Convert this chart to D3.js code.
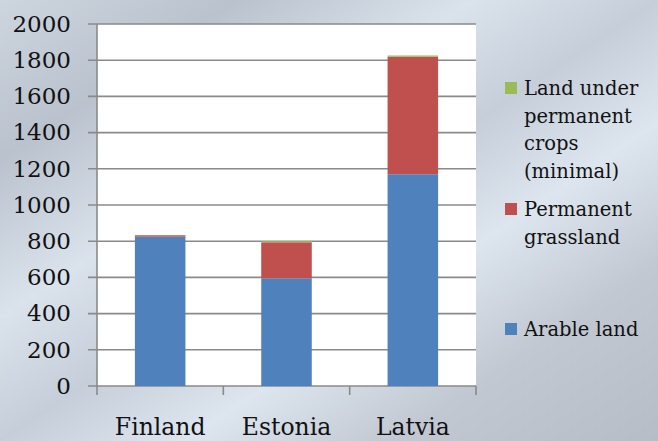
<!DOCTYPE html>
<html>
<head>
<meta charset="utf-8">
<script src="https://cdn.jsdelivr.net/npm/d3@7"></script>
<style>
  html, body { margin: 0; padding: 0; overflow: hidden; }
  svg { display: block; }
  text { font-family: "DejaVu Serif", "Liberation Serif", serif; fill: #111; }
</style>
</head>
<body>
<svg id="chart" width="658" height="441"></svg>
<script>
// Agricultural land by country (thousand hectares)
const countries = ["Finland", "Estonia", "Latvia"];
const arableLand = [825, 595, 1170];
const permanentGrassland = [8, 199, 649];
const permanentCrops = [1, 6, 7];
const yTicks = [0, 200, 400, 600, 800, 1000, 1200, 1400, 1600, 1800, 2000];

const seriesNames = ["Arable land", "Permanent grassland", "Land under permanent crops (minimal)"];
const seriesColors = ["#4f81bd", "#c0504d", "#9bbb59"];

const rows = countries.map((c, i) => ({
  country: c,
  "Arable land": arableLand[i],
  "Permanent grassland": permanentGrassland[i],
  "Land under permanent crops (minimal)": permanentCrops[i]
}));

const svg = d3.select("#chart");
const W = 658, H = 441;
const plot = { left: 97, right: 476, top: 24, bottom: 386 };

// Backdrop gradient with soft diagonal bands
const defs = svg.append("defs");
const grad = defs.append("linearGradient")
  .attr("id", "bg").attr("x1", 0).attr("y1", 0).attr("x2", 1).attr("y2", 1);
[[0, "#cdd5df"], [0.18, "#bac2cd"], [0.36, "#dae2ec"], [0.5, "#c6ced9"],
 [0.64, "#dde5ef"], [0.8, "#c1c8d2"], [1, "#b6bdc7"]]
  .forEach(([o, c]) => grad.append("stop").attr("offset", o).attr("stop-color", c));
svg.append("rect").attr("width", W).attr("height", H).attr("fill", "url(#bg)");

// Plot area
svg.append("rect")
  .attr("x", plot.left).attr("y", plot.top)
  .attr("width", plot.right - plot.left).attr("height", plot.bottom - plot.top)
  .attr("fill", "#ffffff");

const x = d3.scaleBand().domain(countries).range([plot.left, plot.right]).paddingInner(0.6).paddingOuter(0.3);
const xBand = d3.scaleBand().domain(countries).range([plot.left, plot.right]);
const y = d3.scaleLinear().domain([0, 2000]).range([plot.bottom, plot.top]);

const gridColor = "#8a8a8a";

// Horizontal gridlines
svg.append("g").selectAll("line").data(yTicks).join("line")
  .attr("x1", plot.left - 9).attr("x2", plot.right)
  .attr("y1", d => y(d)).attr("y2", d => y(d))
  .attr("stroke", gridColor).attr("stroke-width", 1.6);

// Stacked bars
const stack = d3.stack().keys(seriesNames);
const stacked = stack(rows);
svg.append("g").selectAll("g").data(stacked).join("g")
  .attr("fill", (d, i) => seriesColors[i])
  .selectAll("rect").data(d => d).join("rect")
  .attr("x", d => x(d.data.country))
  .attr("width", x.bandwidth())
  .attr("y", d => y(d[1]))
  .attr("height", d => y(d[0]) - y(d[1]));

// Y axis
const yAxis = d3.axisLeft(y).tickValues(yTicks).tickFormat(d3.format("d")).tickSize(0).tickPadding(26);
const yg = svg.append("g").attr("transform", `translate(${plot.left},0)`).call(yAxis);
yg.select(".domain").remove();
yg.selectAll("text").style("font-size", "23px").attr("fill", "#111")
  .style("font-family", "'DejaVu Serif', serif");
svg.append("line")
  .attr("x1", plot.left).attr("x2", plot.left)
  .attr("y1", plot.top).attr("y2", plot.bottom + 9)
  .attr("stroke", gridColor).attr("stroke-width", 1.6);

// X axis category boundaries
const bounds = countries.map(c => xBand(c)).concat([plot.right]);
svg.append("g").selectAll("line").data(bounds.slice(1)).join("line")
  .attr("x1", d => d).attr("x2", d => d)
  .attr("y1", plot.bottom).attr("y2", plot.bottom + 9)
  .attr("stroke", gridColor).attr("stroke-width", 1.6);

svg.append("g").selectAll("text").data(countries).join("text")
  .attr("x", d => xBand(d) + xBand.bandwidth() / 2)
  .attr("y", 435)
  .attr("text-anchor", "middle")
  .style("font-size", "23.5px")
  .text(d => d);

// Legend
const legendItems = [
  { color: seriesColors[2], lines: ["Land under", "permanent", "crops", "(minimal)"], y: 95 },
  { color: seriesColors[1], lines: ["Permanent", "grassland"], y: 216 },
  { color: seriesColors[0], lines: ["Arable land"], y: 336 }
];
const lg = svg.append("g");
legendItems.forEach(item => {
  lg.append("rect")
    .attr("x", 505).attr("y", item.y - 13)
    .attr("width", 12).attr("height", 12)
    .attr("fill", item.color);
  const t = lg.append("text").attr("x", 524).attr("y", item.y).style("font-size", "19.5px");
  item.lines.forEach((ln, k) => {
    t.append("tspan").attr("x", 524).attr("dy", k === 0 ? 0 : 27.5).text(ln);
  });
});
</script>
</body>
</html>
